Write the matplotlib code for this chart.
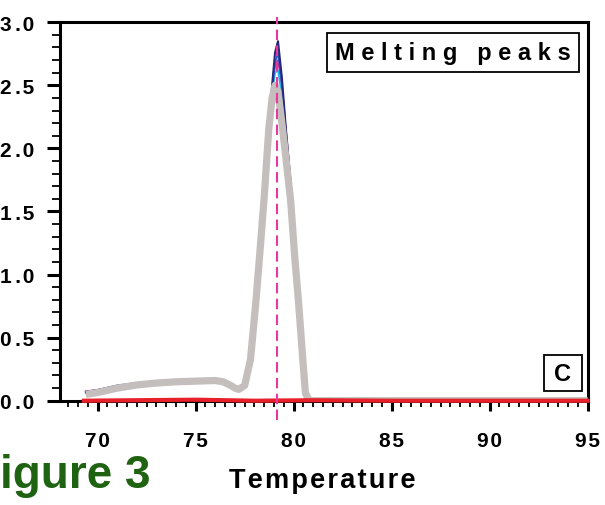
import matplotlib
matplotlib.use("Agg")
import matplotlib.pyplot as plt
from matplotlib.patches import Rectangle
from matplotlib.ticker import MultipleLocator

plt.rcParams['font.family'] = ['Liberation Sans', 'DejaVu Sans']
plt.rcParams['font.weight'] = 'bold'

# melting curves
temp = [69.4, 70.0, 71.0, 72.0, 73.0, 74.0, 75.0, 76.0, 76.4, 76.8, 77.0, 77.2, 77.5,
        77.8, 78.07, 78.3, 78.5, 78.73, 78.9, 79.05, 79.2, 79.4, 79.6, 79.85,
        80.05, 80.25, 80.45, 80.6, 80.8, 82.0, 85.0, 90.0, 95.0]
gray = [0.05, 0.065, 0.10, 0.125, 0.14, 0.15, 0.155, 0.16, 0.15, 0.12, 0.10, 0.09, 0.12,
        0.33, 0.78, 1.22, 1.62, 2.15, 2.40, 2.50, 2.45, 2.20, 1.93, 1.58,
        1.15, 0.78, 0.36, 0.06, 0.0, 0.0, 0.0, 0.0, 0.0]
navy = [0.07, 0.085, 0.12, 0.14, 0.155, 0.16, 0.165, 0.17, 0.16, 0.125, 0.105, 0.09, 0.12,
        0.31, 0.74, 1.18, 1.58, 2.12, 2.50, 2.76, 2.85, 2.56, 2.16, 1.72,
        1.28, 0.88, 0.42, 0.10, 0.0, 0.0, 0.0, 0.0, 0.0]
blue = [0.065, 0.08, 0.115, 0.135, 0.15, 0.158, 0.162, 0.168, 0.158, 0.124, 0.104, 0.09, 0.12,
        0.31, 0.75, 1.19, 1.59, 2.13, 2.46, 2.68, 2.76, 2.50, 2.12, 1.70,
        1.26, 0.86, 0.41, 0.09, 0.0, 0.0, 0.0, 0.0, 0.0]
cyan = [0.06, 0.075, 0.11, 0.13, 0.145, 0.155, 0.16, 0.165, 0.156, 0.123, 0.104, 0.09, 0.12,
        0.32, 0.76, 1.20, 1.60, 2.14, 2.42, 2.60, 2.62, 2.42, 2.08, 1.67,
        1.24, 0.85, 0.40, 0.08, 0.0, 0.0, 0.0, 0.0, 0.0]
magenta = [0.075, 0.085, 0.115, 0.135, 0.15, 0.158, 0.163, 0.168, 0.158, 0.124, 0.104, 0.09, 0.12,
           0.32, 0.76, 1.20, 1.60, 2.14, 2.45, 2.66, 2.70, 2.50, 2.15, 1.73,
           1.30, 0.90, 0.44, 0.11, 0.0, 0.0, 0.0, 0.0, 0.0]

neg_temp = [69.3, 72.0, 75.0, 78.0, 81.0, 85.0, 90.0, 95.0]
neg_val = [0.0, 0.004, 0.008, 0.0, 0.004, 0.0, 0.0, 0.0]

tm = 79.15

xticks = [70, 75, 80, 85, 90, 95]
yticks = [0, 0.5, 1.0, 1.5, 2.0, 2.5, 3.0]

hs = '\u200a'

fig = plt.figure(figsize=(6.05, 5.06), dpi=100)
ax = fig.add_axes([60 / 605, 0.2061, 527.7 / 605, 0.748])

ax.plot(temp, magenta, color='#e0208c', lw=1.3, zorder=2)
ax.plot(temp, cyan, color='#20b4ee', lw=1.3, zorder=2)
ax.plot(temp, blue, color='#3858c8', lw=1.3, zorder=2)
ax.plot(temp, navy, color='#27287a', lw=1.5, zorder=2)
ax.plot(temp, gray, color='#c4bfbc', lw=5.2, zorder=3, solid_capstyle='butt')
ax.plot(neg_temp, neg_val, color='#e8202a', lw=3.0, zorder=4, clip_on=False)
ax.axvline(tm, ymin=-0.05, ymax=1.013, color='#e8389c', lw=1.5,
           ls=(0, (5, 2.6)), zorder=5, clip_on=False)

ax.set_xlim(68.08, 95)
ax.set_ylim(0, 3.0)
ax.xaxis.set_minor_locator(MultipleLocator(0.5))
ax.yaxis.set_minor_locator(MultipleLocator(0.1))

for s in ax.spines.values():
    s.set_linewidth(2.2)
ax.tick_params(axis='x', which='major', direction='out', length=7.5, width=2.2,
               pad=14, labelsize=15)
ax.tick_params(axis='x', which='minor', direction='out', length=4, width=1.3)
ax.tick_params(axis='y', which='major', direction='out', length=9.5, width=2.2,
               pad=9, labelsize=15)
ax.tick_params(axis='y', which='minor', direction='out', length=5.5, width=1.3)
ax.set_xticks(xticks)
ax.set_xticklabels([hs.join(str(t)) for t in xticks])
ax.set_yticks(yticks)
ylabels = []
for t in yticks:
    s = '%.1f' % t
    ylabels.append(s[0] + hs * 2 + '.' + hs + s[2])
ax.set_yticklabels(ylabels)

# labelled boxes
ax.add_patch(Rectangle((0.506, 0.8686), 0.4775, 0.103, transform=ax.transAxes,
                       fill=False, lw=1.3, ec='black', zorder=6))
ax.text(0.745, 0.920, 'M e l t i n g   p e a k s', transform=ax.transAxes,
        ha='center', va='center', fontsize=17, fontweight='bold', zorder=7)
ax.add_patch(Rectangle((0.917, 0.0256), 0.072, 0.0951, transform=ax.transAxes,
                       fill=False, lw=1.3, ec='black', zorder=6))
ax.text(0.953, 0.073, 'C', transform=ax.transAxes, ha='center', va='center',
        fontsize=17, fontweight='bold', zorder=7)

fig.text(322 / 605, (506 - 488) / 506, hs.join('Temperature'),
         ha='center', va='baseline', fontsize=19.5, fontweight='bold')
fig.text(150 / 605, (506 - 488.3) / 506, 'Figure 3', ha='right', va='baseline',
         fontsize=33, fontweight='bold', color='#1e6212')

fig.savefig('out.png', dpi=100)
